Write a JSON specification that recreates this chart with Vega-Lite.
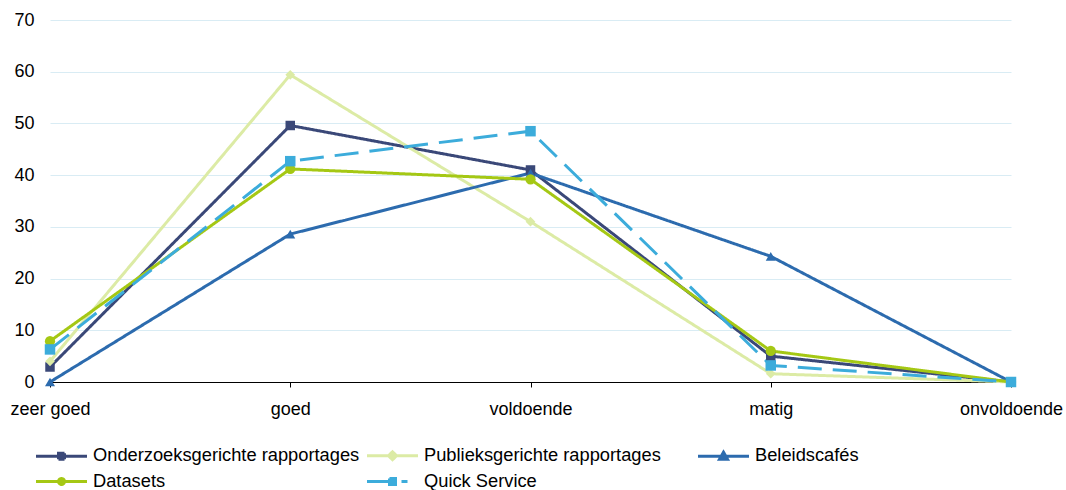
{
  "$schema": "https://vega.github.io/schema/vega-lite/v6.json",
  "autosize": {"type": "none"},
  "padding": {"left": 50, "top": 20, "right": 55, "bottom": 108},
  "width": 961,
  "height": 362,
  "background": "white",
  "config": {
    "font": "Liberation Sans",
    "view": {"stroke": null}
  },
  "data": {
    "values": [
      {"series": "Onderzoeksgerichte rapportages", "rating": "zeer goed", "value": 2.9},
      {"series": "Onderzoeksgerichte rapportages", "rating": "goed", "value": 49.6},
      {"series": "Onderzoeksgerichte rapportages", "rating": "voldoende", "value": 41.0},
      {"series": "Onderzoeksgerichte rapportages", "rating": "matig", "value": 5.0},
      {"series": "Onderzoeksgerichte rapportages", "rating": "onvoldoende", "value": 0},
      {"series": "Publieksgerichte rapportages", "rating": "zeer goed", "value": 4.0},
      {"series": "Publieksgerichte rapportages", "rating": "goed", "value": 59.4},
      {"series": "Publieksgerichte rapportages", "rating": "voldoende", "value": 31.0},
      {"series": "Publieksgerichte rapportages", "rating": "matig", "value": 1.6},
      {"series": "Publieksgerichte rapportages", "rating": "onvoldoende", "value": 0},
      {"series": "Beleidscafés", "rating": "zeer goed", "value": 0},
      {"series": "Beleidscafés", "rating": "goed", "value": 28.6},
      {"series": "Beleidscafés", "rating": "voldoende", "value": 40.4},
      {"series": "Beleidscafés", "rating": "matig", "value": 24.3},
      {"series": "Beleidscafés", "rating": "onvoldoende", "value": 0},
      {"series": "Datasets", "rating": "zeer goed", "value": 7.9},
      {"series": "Datasets", "rating": "goed", "value": 41.2},
      {"series": "Datasets", "rating": "voldoende", "value": 39.2},
      {"series": "Datasets", "rating": "matig", "value": 6.0},
      {"series": "Datasets", "rating": "onvoldoende", "value": 0},
      {"series": "Quick Service", "rating": "zeer goed", "value": 6.3},
      {"series": "Quick Service", "rating": "goed", "value": 42.7},
      {"series": "Quick Service", "rating": "voldoende", "value": 48.5},
      {"series": "Quick Service", "rating": "matig", "value": 3.2},
      {"series": "Quick Service", "rating": "onvoldoende", "value": 0}
    ]
  },
  "encoding": {
    "x": {
      "field": "rating",
      "type": "ordinal",
      "sort": ["zeer goed", "goed", "voldoende", "matig", "onvoldoende"],
      "scale": {"type": "point", "padding": 0},
      "axis": {
        "title": null,
        "labelAngle": 0,
        "labelFontSize": 18,
        "labelColor": "#000000",
        "labelPadding": 13,
        "labelOverlap": false,
        "domainColor": "#000000",
        "domainWidth": 1,
        "tickColor": "#000000",
        "tickSize": 5,
        "grid": false
      }
    },
    "y": {
      "field": "value",
      "type": "quantitative",
      "scale": {"domain": [0, 70], "nice": false},
      "axis": {
        "title": null,
        "values": [0, 10, 20, 30, 40, 50, 60, 70],
        "domain": false,
        "ticks": false,
        "labelFontSize": 18,
        "labelColor": "#000000",
        "labelPadding": 16,
        "grid": true,
        "gridColor": "#D9ECF4",
        "gridWidth": 1
      }
    }
  },
  "resolve": {
    "legend": {"color": "independent", "shape": "independent", "size": "independent", "strokeDash": "independent"}
  },
  "layer": [
    {
      "mark": {"type": "line", "strokeWidth": 3, "strokeCap": "butt"},
      "encoding": {
        "color": {
          "field": "series",
          "type": "nominal",
          "sort": ["Onderzoeksgerichte rapportages", "Publieksgerichte rapportages", "Beleidscafés", "Datasets", "Quick Service"],
          "scale": {
            "domain": ["Onderzoeksgerichte rapportages", "Publieksgerichte rapportages", "Beleidscafés", "Datasets", "Quick Service"],
            "range": ["#3A4878", "#DCEBA5", "#2C6BAE", "#A5C814", "#3CACDB"]
          },
          "legend": {
            "title": null,
            "orient": "none",
            "legendX": 0,
            "legendY": 424,
            "direction": "horizontal",
            "columns": 3,
            "gridAlign": "all",
            "columnPadding": 1,
            "rowPadding": 4,
            "labelFontSize": 18.3,
            "labelColor": "#000000",
            "labelOffset": 20,
            "symbolSize": 400,
            "symbolStrokeWidth": 3,
            "labelLimit": 400,
            "encode": {
              "symbols": {
                "update": {
                  "shape": {"signal": "datum.value === 'Onderzoeksgerichte rapportages' ? 'M-2.55,0H2.55M-0.3,-0.3H0.3V0.3H-0.3Z' : datum.value === 'Publieksgerichte rapportages' ? 'M-2.55,0H2.55M0,-0.4L0.4,0L0,0.4L-0.4,0Z' : datum.value === 'Beleidscafés' ? 'M-2.55,0H2.55M0,-0.4L0.4,0.3H-0.4Z' : datum.value === 'Datasets' ? 'M-2.55,0H2.55M-0.3,0A0.3,0.3 0 1,0 0.3,0A0.3,0.3 0 1,0 -0.3,0Z' : 'M-2.55,0H-0.3M-0.3,-0.3H0.3V0.3H-0.3ZM0.9,0H1.5'"},
                  "fill": {"scale": "color", "field": "value"},
                  "stroke": {"scale": "color", "field": "value"},
                  "strokeWidth": {"value": 3},
                  "strokeDash": {"value": [1, 0]},
                  "opacity": {"value": 1}
                }
              }
            }
          }
        },
        "strokeDash": {
          "field": "series",
          "type": "nominal",
          "scale": {
            "domain": ["Onderzoeksgerichte rapportages", "Publieksgerichte rapportages", "Beleidscafés", "Datasets", "Quick Service"],
            "range": [[1, 0], [1, 0], [1, 0], [1, 0], [24, 11]]
          },
          "legend": null
        }
      }
    },
    {
      "mark": {"type": "point", "filled": true, "opacity": 1},
      "encoding": {
        "color": {"field": "series", "type": "nominal", "legend": null},
        "shape": {
          "field": "series",
          "type": "nominal",
          "scale": {
            "domain": ["Onderzoeksgerichte rapportages", "Publieksgerichte rapportages", "Beleidscafés", "Datasets", "Quick Service"],
            "range": ["square", "diamond", "triangle-up", "circle", "square"]
          },
          "legend": null
        },
        "size": {
          "field": "series",
          "type": "nominal",
          "scale": {
            "domain": ["Onderzoeksgerichte rapportages", "Publieksgerichte rapportages", "Beleidscafés", "Datasets", "Quick Service"],
            "range": [90, 110, 130, 100, 100]
          },
          "legend": null
        }
      }
    }
  ]
}
